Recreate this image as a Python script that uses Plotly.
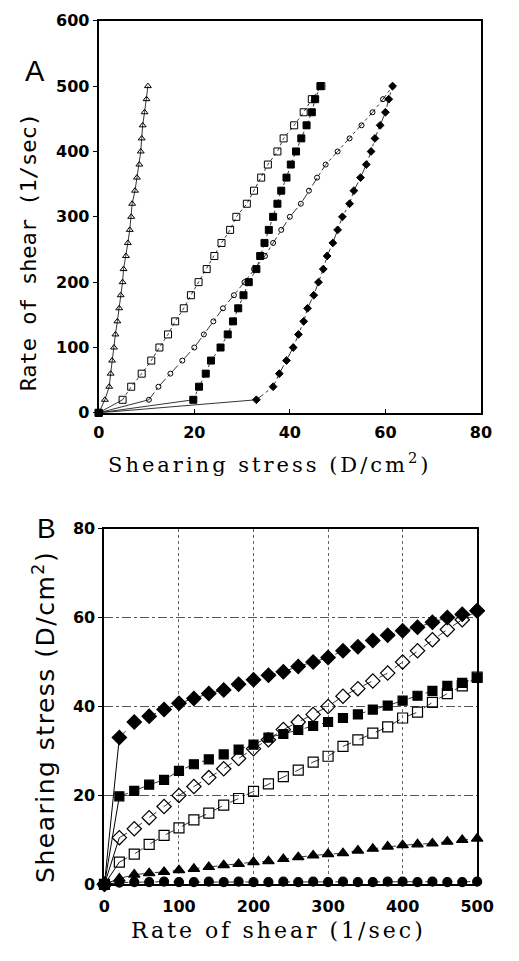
import plotly.graph_objects as go

# ---------------- data (rate of shear in 1/sec, shearing stress in D/cm^2) ----------------
RATE = [0, 20, 40, 60, 80, 100, 120, 140, 160, 180, 200, 220, 240, 260, 280,
        300, 320, 340, 360, 380, 400, 420, 440, 460, 480, 500]

FILLED_DIAMOND = [0, 33, 36.5, 37.8, 39.3, 40.7, 41.8, 42.9, 43.7, 45, 46, 47, 47.8,
                  49, 50, 51, 52.5, 53.4, 54.8, 56, 57, 57.8, 58.9, 60, 60.7, 61.5]
FILLED_SQUARE = [0, 19.8, 21, 22.4, 23.5, 25.5, 27, 28.1, 29.2, 30.3, 31.4, 33, 33.8,
                 34.7, 35.6, 36.5, 37.4, 38.2, 39.3, 40.2, 41.3, 42.4, 43.5, 44.6, 45.3, 46.4]
OPEN_DIAMOND = [0, 10.5, 12.5, 15, 17.5, 20, 22, 24, 26, 28.3, 30.5, 32.5, 34.8,
                36.5, 38.2, 40, 42.3, 44, 45.7, 47.5, 50, 52.5, 55, 57.3, 59.5, 61.5]
OPEN_SQUARE = [0, 5, 6.8, 9, 11, 12.7, 14.5, 16, 17.8, 19.3, 20.9, 22.6, 24.2,
               25.7, 27.5, 28.8, 31, 32.5, 34, 35.4, 37.4, 38.7, 40.9, 42.9, 44.6, 46.6]
FILLED_TRIANGLE = [0, 1.3, 2.2, 2.5, 2.8, 3.2, 3.5, 3.9, 4.3, 4.6, 5, 5.2, 5.7,
                   6.1, 6.5, 6.8, 7, 7.6, 8, 8.5, 8.8, 9, 9.2, 9.6, 10, 10.3]
FILLED_CIRCLE = [0, 0.4, 0.5, 0.5, 0.6, 0.5, 0.5, 0.6, 0.5, 0.6, 0.5, 0.5, 0.6,
                 0.5, 0.6, 0.5, 0.6, 0.5, 0.5, 0.6, 0.6, 0.5, 0.6, 0.5, 0.5, 0.6]

A_X_TICKS = [0, 20, 40, 60, 80]
A_Y_TICKS = [0, 100, 200, 300, 400, 500, 600]
B_X_TICKS = [0, 100, 200, 300, 400, 500]
B_Y_TICKS = [0, 20, 40, 60, 80]

W, H = 519, 961


def px(x):
    return x / W


def py(y):
    return 1 - y / H


fig = go.Figure()

# ---------------- Panel A: rate (y) vs stress (x) ----------------
A_SERIES = [
    (FILLED_TRIANGLE, "triangle-up-open", 6, "solid"),
    (OPEN_SQUARE, "square-open", 7, "dot"),
    (OPEN_DIAMOND, "circle-open", 5, "dashdot"),
    (FILLED_DIAMOND, "diamond", 6, "dashdot"),
    (FILLED_SQUARE, "square", 7, "dot"),
]
for vals, sym, size, dash in A_SERIES:
    fig.add_trace(go.Scatter(x=vals[:2], y=RATE[:2], mode="lines",
                             line=dict(color="black", width=0.8),
                             xaxis="x", yaxis="y", showlegend=False, hoverinfo="skip"))
    fig.add_trace(go.Scatter(x=vals[1:], y=RATE[1:], mode="lines",
                             line=dict(color="black", width=0.8, dash=dash),
                             xaxis="x", yaxis="y", showlegend=False, hoverinfo="skip"))
    fig.add_trace(go.Scatter(x=vals, y=RATE, mode="markers",
                             marker=dict(symbol=sym, size=size, color="black",
                                         line=dict(color="black", width=1)),
                             cliponaxis=False, xaxis="x", yaxis="y", showlegend=False))

# ---------------- Panel B: stress (y) vs rate (x) ----------------
B_SERIES = [
    (FILLED_CIRCLE, "circle", 9),
    (FILLED_TRIANGLE, "triangle-up", 10),
    (OPEN_SQUARE, "square-open", 10),
    (OPEN_DIAMOND, "diamond-open", 11),
    (FILLED_SQUARE, "square", 9),
    (FILLED_DIAMOND, "diamond", 11),
]
for vals, sym, size in B_SERIES:
    fig.add_trace(go.Scatter(x=RATE[:2], y=vals[:2], mode="lines",
                             line=dict(color="black", width=1),
                             xaxis="x2", yaxis="y2", showlegend=False, hoverinfo="skip"))
    fig.add_trace(go.Scatter(x=RATE[1:], y=vals[1:], mode="lines",
                             line=dict(color="black", width=0.8, dash="dash"),
                             xaxis="x2", yaxis="y2", showlegend=False, hoverinfo="skip"))
    fig.add_trace(go.Scatter(x=RATE, y=vals, mode="markers",
                             marker=dict(symbol=sym, size=size, color="black",
                                         line=dict(color="black", width=1.2)),
                             cliponaxis=False, xaxis="x2", yaxis="y2", showlegend=False))

tickfont = dict(family="DejaVu Sans", size=16, color="black", weight="bold")
axis_common = dict(showline=True, linecolor="black", linewidth=2, mirror=True,
                   zeroline=False, tickfont=tickfont, fixedrange=True)

fig.update_layout(
    width=W, height=H,
    margin=dict(l=0, r=0, t=0, b=0),
    paper_bgcolor="white", plot_bgcolor="white",
    showlegend=False,
    xaxis=dict(domain=[px(97), px(497)], range=[0, 80], tickvals=A_X_TICKS,
               showgrid=False, ticks="inside", ticklen=4, tickcolor="black",
               ticklabelstandoff=4, anchor="y", **axis_common),
    yaxis=dict(domain=[py(412), py(12)], range=[0, 600], tickvals=A_Y_TICKS,
               showgrid=False, ticks="outside", ticklen=4, tickcolor="black",
               anchor="x", **axis_common),
    xaxis2=dict(domain=[px(103), px(493)], range=[0, 500], tickvals=B_X_TICKS,
                showgrid=True, gridcolor="#666", griddash="dot", gridwidth=1,
                ticks="", ticklabelstandoff=6, anchor="y2", **axis_common),
    yaxis2=dict(domain=[py(893), py(530)], range=[0, 80], tickvals=B_Y_TICKS,
                showgrid=True, gridcolor="#555", griddash="dashdot", gridwidth=1,
                ticks="outside", ticklen=4, tickcolor="black",
                anchor="x2", **axis_common),
)


def spaced(txt, ls):
    return '<span style="letter-spacing:%gpx">%s</span>' % (ls, txt)


annotations = [
    dict(text="A", x=px(30), y=py(63), font=dict(family="Liberation Sans", size=29)),
    dict(text="B", x=px(42), y=py(530), font=dict(family="Liberation Sans", size=28)),
    dict(text="Rate of shear (1/sec)", x=px(23), y=py(248), textangle=-90,
         font=dict(family="DejaVu Sans Mono", size=22)),
    dict(text=spaced("Shearing stress (D/cm<sup>2</sup>)", 3), x=px(276), y=py(463),
         font=dict(family="DejaVu Serif", size=21)),
    dict(text=spaced("Shearing stress (D/cm<sup>2</sup>)", 1.5), x=px(40), y=py(722),
         textangle=-90, font=dict(family="DejaVu Sans", size=25)),
    dict(text=spaced("Rate of shear (1/sec)", 3), x=px(285), y=py(940),
         font=dict(family="DejaVu Serif", size=22)),
]
for a in annotations:
    a.update(xref="paper", yref="paper", showarrow=False, xanchor="center", yanchor="middle")
    a["font"].setdefault("color", "black")
fig.update_layout(annotations=annotations)

fig.write_html("out.html")
